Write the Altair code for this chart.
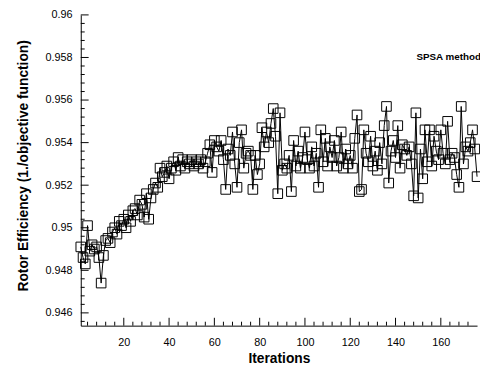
import altair as alt
import pandas as pd

iterations = list(range(1, 177))
efficiency = [
    0.9491, 0.9486, 0.9483, 0.9501, 0.9489, 0.9492, 0.9490, 0.9491, 0.9486, 0.9474,
    0.9487, 0.9494, 0.9495, 0.9493, 0.9498, 0.9500, 0.9497, 0.9503, 0.9501, 0.9504,
    0.9500, 0.9506, 0.9503, 0.9508, 0.9509, 0.9506, 0.9513, 0.9511, 0.9505, 0.9516,
    0.9504, 0.9514, 0.9518, 0.9521, 0.9519, 0.9528, 0.9524, 0.9526, 0.9529, 0.9523,
    0.9528, 0.9531, 0.9527, 0.9533, 0.9529, 0.9532, 0.9528, 0.9531, 0.9530, 0.9532,
    0.9529, 0.9531, 0.9530, 0.9532, 0.9528, 0.9531, 0.9535, 0.9539, 0.9526, 0.9541,
    0.9538, 0.9536, 0.9541, 0.9532, 0.9518, 0.9537, 0.9534, 0.9545, 0.9530, 0.9519,
    0.9540, 0.9546, 0.9528, 0.9535, 0.9536, 0.9534, 0.9518, 0.9534, 0.9525, 0.9530,
    0.9547, 0.9538, 0.9545, 0.9540, 0.9549, 0.9556, 0.9543, 0.9516, 0.9554, 0.9527,
    0.9530, 0.9528, 0.9534, 0.9517, 0.9541, 0.9529, 0.9536, 0.9528, 0.9533, 0.9545,
    0.9532, 0.9528, 0.9538, 0.9529, 0.9535, 0.9519, 0.9546, 0.9531, 0.9542, 0.9529,
    0.9538, 0.9533, 0.9541, 0.9529, 0.9533, 0.9545, 0.9528, 0.9537, 0.9530, 0.9534,
    0.9528, 0.9542, 0.9553, 0.9517, 0.9518, 0.9546, 0.9535, 0.9531, 0.9543, 0.9529,
    0.9536, 0.9527, 0.9540, 0.9530, 0.9548, 0.9557, 0.9521, 0.9536, 0.9541, 0.9533,
    0.9548, 0.9528, 0.9539, 0.9537, 0.9534, 0.9538, 0.9530, 0.9515, 0.9554, 0.9514,
    0.9537, 0.9523, 0.9546, 0.9531, 0.9546, 0.9529, 0.9543, 0.9536, 0.9532, 0.9546,
    0.9535, 0.9530, 0.9550, 0.9532, 0.9535, 0.9533, 0.9525, 0.9519, 0.9557, 0.9530,
    0.9538, 0.9536, 0.9540, 0.9546, 0.9537, 0.9524,
]

x_major = [20, 40, 60, 80, 100, 120, 140, 160]
x_minor = [v for v in range(4, 176, 4) if v % 20 != 0]
y_major = [0.946, 0.948, 0.95, 0.952, 0.954, 0.956, 0.958, 0.96]
y_minor = [n / 10000 for n in range(9456, 9600, 4) if n % 20 != 0]

label_text = ["SPSA method"]
label_x = [163.5]
label_y = [0.9580]

W, H = 403, 316
FONT = "Liberation Sans"

df = pd.DataFrame({"it": iterations, "eff": efficiency})
xs = alt.Scale(domain=[1, 176], nice=False, zero=False)
ys = alt.Scale(domain=[0.9454, 0.96], nice=False, zero=False)

x_axis = alt.Axis(
    values=x_major, tickSize=0, labelPadding=11, grid=False,
    domainColor="black", domainWidth=1, labelColor="black",
    labelFont=FONT, labelFontSize=11,
    title="Iterations", titleFont=FONT, titleFontSize=14, titleFontWeight="bold",
    titleColor="black", titleY=33, titleBaseline="middle",
)
y_axis = alt.Axis(
    values=y_major, format="~g", tickSize=0, labelPadding=9, grid=False,
    domainColor="black", domainWidth=1, labelColor="black",
    labelFont=FONT, labelFontSize=11,
    title="Rotor Efficiency (1./objective function)", titleFont=FONT,
    titleFontSize=14, titleFontWeight="bold", titleColor="black",
    titleX=-58, titleY=153, titleBaseline="middle",
)

X = alt.X("it:Q", scale=xs, axis=x_axis)
Y = alt.Y("eff:Q", scale=ys, axis=y_axis)

line = alt.Chart(df).mark_line(color="black", strokeWidth=1).encode(x=X, y=Y)
points = alt.Chart(df).mark_point(
    shape="square", filled=False, size=95, color="black", strokeWidth=1, opacity=1
).encode(x=X, y=Y)

xmaj = alt.Chart(pd.DataFrame({"it": x_major})).mark_rule(color="black", strokeWidth=1).encode(
    x=X, y=alt.value(H), y2=alt.value(H - 8)
)
xmin = alt.Chart(pd.DataFrame({"it": x_minor})).mark_rule(color="black", strokeWidth=1).encode(
    x=X, y=alt.value(H), y2=alt.value(H - 4)
)
ymaj = alt.Chart(pd.DataFrame({"eff": y_major})).mark_rule(color="black", strokeWidth=1).encode(
    y=Y, x=alt.value(0), x2=alt.value(8)
)
ymin = alt.Chart(pd.DataFrame({"eff": y_minor})).mark_rule(color="black", strokeWidth=1).encode(
    y=Y, x=alt.value(0), x2=alt.value(4)
)

label = alt.Chart(pd.DataFrame({"t": label_text, "it": label_x, "eff": label_y})).mark_text(
    font=FONT, fontSize=10, fontWeight="bold", color="black", align="center", baseline="middle"
).encode(x=X, y=Y, text="t:N")

chart = alt.layer(line, points, xmaj, xmin, ymaj, ymin, label).properties(
    width=W, height=H,
    autosize=alt.AutoSizeParams(type="none"),
    padding={"left": 74, "top": 4, "right": 3, "bottom": 38},
    background="white",
).configure_view(stroke=None)

chart.save("out.html", embed_options={"renderer": "svg", "actions": False})
